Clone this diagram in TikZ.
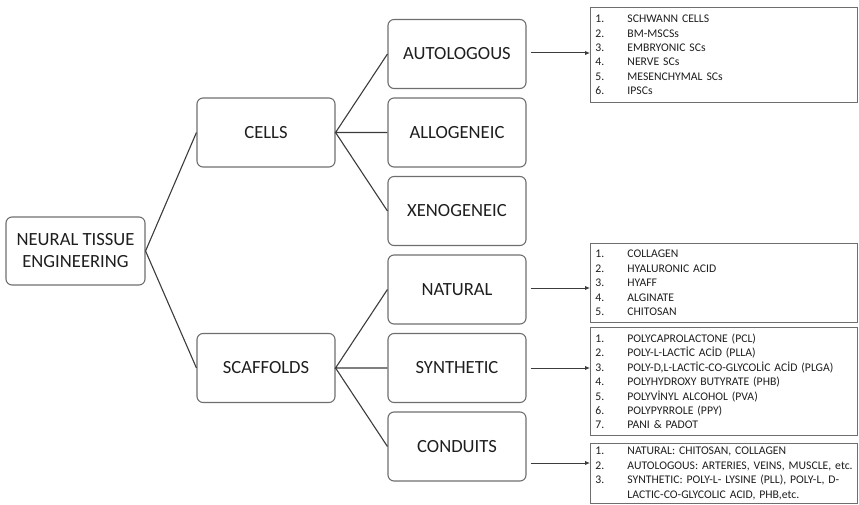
\documentclass[tikz,border=0pt]{standalone}
\usepackage{fontspec}
\setmainfont{Carlito}
\usepackage{xcolor}
\usetikzlibrary{arrows.meta, positioning, calc}

\definecolor{boxgray}{HTML}{6E6E6E}
\definecolor{linegray}{HTML}{3C3C3C}
\definecolor{textgray}{HTML}{1E1E1E}

\tikzset{
  topic/.style={draw=boxgray, line width=1.1pt, rounded corners=6pt, minimum width=138pt, minimum height=69pt,
    align=center, text=textgray, font=\fontsize{18.6}{22}\selectfont},
  listbox/.style={draw=boxgray, line width=0.9pt, anchor=north west, minimum width=267pt, text width=257pt,
    inner xsep=5pt, inner ysep=3pt, align=left, text=textgray, font=\fontsize{11.7}{14.4}\selectfont},
  branch/.style={draw=linegray, line width=1.1pt},
  arr/.style={draw=linegray, line width=1pt, -{Latex[length=5pt,width=4.5pt]}}
}
\newcommand{\litem}[2]{\mbox{\makebox[32pt][l]{#1.}#2}}

\begin{document}
\begin{tikzpicture}[x=1pt, y=1pt]
    \useasboundingbox (0,0) rectangle (859,504);

    \node[topic, minimum width=139pt, minimum height=68pt] at (75.5,253) (nte) {NEURAL TISSUE\\ENGINEERING};

    \node[topic] at (266,371.5) (cells) {CELLS};
    \node[topic] at (266,136) (scaf) {SCAFFOLDS};

    \node[topic] at (457,450) (auto) {AUTOLOGOUS};
    \node[topic] at (457,371.5) (allo) {ALLOGENEIC};
    \node[topic] at (457,293) (xeno) {XENOGENEIC};
    \node[topic] at (457,214.5) (nat) {NATURAL};
    \node[topic] at (457,136) (syn) {SYNTHETIC};
    \node[topic] at (457,57.5) (cond) {CONDUITS};

    \draw[branch] (nte.east) -- (cells.west);
    \draw[branch] (nte.east) -- (scaf.west);
    \draw[branch] (auto.west) -- (cells.east) -- (allo.west);
    \draw[branch] (cells.east) -- (xeno.west);
    \draw[branch] (nat.west) -- (scaf.east) -- (syn.west);
    \draw[branch] (scaf.east) -- (cond.west);

    % lists on the right
    \node[listbox, minimum height=95pt] at (590,497) (lauto) {%
      \litem{1}{SCHWANN CELLS}\\
      \litem{2}{BM-MSCSs}\\
      \litem{3}{EMBRYONIC SCs}\\
      \litem{4}{NERVE SCs}\\
      \litem{5}{MESENCHYMAL SCs}\\
      \litem{6}{IPSCs}};

    \node[listbox, minimum height=79pt] at (590,261) (lnat) {%
      \litem{1}{COLLAGEN}\\
      \litem{2}{HYALURONIC ACID}\\
      \litem{3}{HYAFF}\\
      \litem{4}{ALGINATE}\\
      \litem{5}{CHITOSAN}};

    \node[listbox, minimum height=108pt] at (590,177) (lsyn) {%
      \litem{1}{POLYCAPROLACTONE (PCL)}\\
      \litem{2}{POLY-L-LACTİC ACİD (PLLA)}\\
      \litem{3}{POLY-D,L-LACTİC-CO-GLYCOLİC ACİD (PLGA)}\\
      \litem{4}{POLYHYDROXY BUTYRATE (PHB)}\\
      \litem{5}{POLYVİNYL ALCOHOL (PVA)}\\
      \litem{6}{POLYPYRROLE (PPY)}\\
      \litem{7}{PANI \& PADOT}};

    \node[listbox, minimum height=60pt] at (590,61) (lcond) {%
      \litem{1}{NATURAL: CHITOSAN, COLLAGEN}\\
      \litem{2}{AUTOLOGOUS: ARTERIES, VEINS, MUSCLE, etc.}\\
      \litem{3}{SYNTHETIC: POLY-L- LYSINE (PLL), POLY-L, D-}\\
      \mbox{\hspace*{32pt}LACTIC-CO-GLYCOLIC ACID, PHB,etc.}};

    \draw[arr] ([xshift=4pt,yshift=1pt]auto.east) -- ([yshift=1pt]auto.east -| lauto.west);
    \draw[arr] ([xshift=4pt,yshift=1.5pt]nat.east) -- ([yshift=1.5pt]nat.east -| lnat.west);
    \draw[arr] ([xshift=4pt]syn.east) -- (syn.east -| lsyn.west);
    \draw[arr] ([xshift=4pt,yshift=-16.5pt]cond.east) -- ([yshift=-16.5pt]cond.east -| lcond.west);

\end{tikzpicture}
\end{document}
